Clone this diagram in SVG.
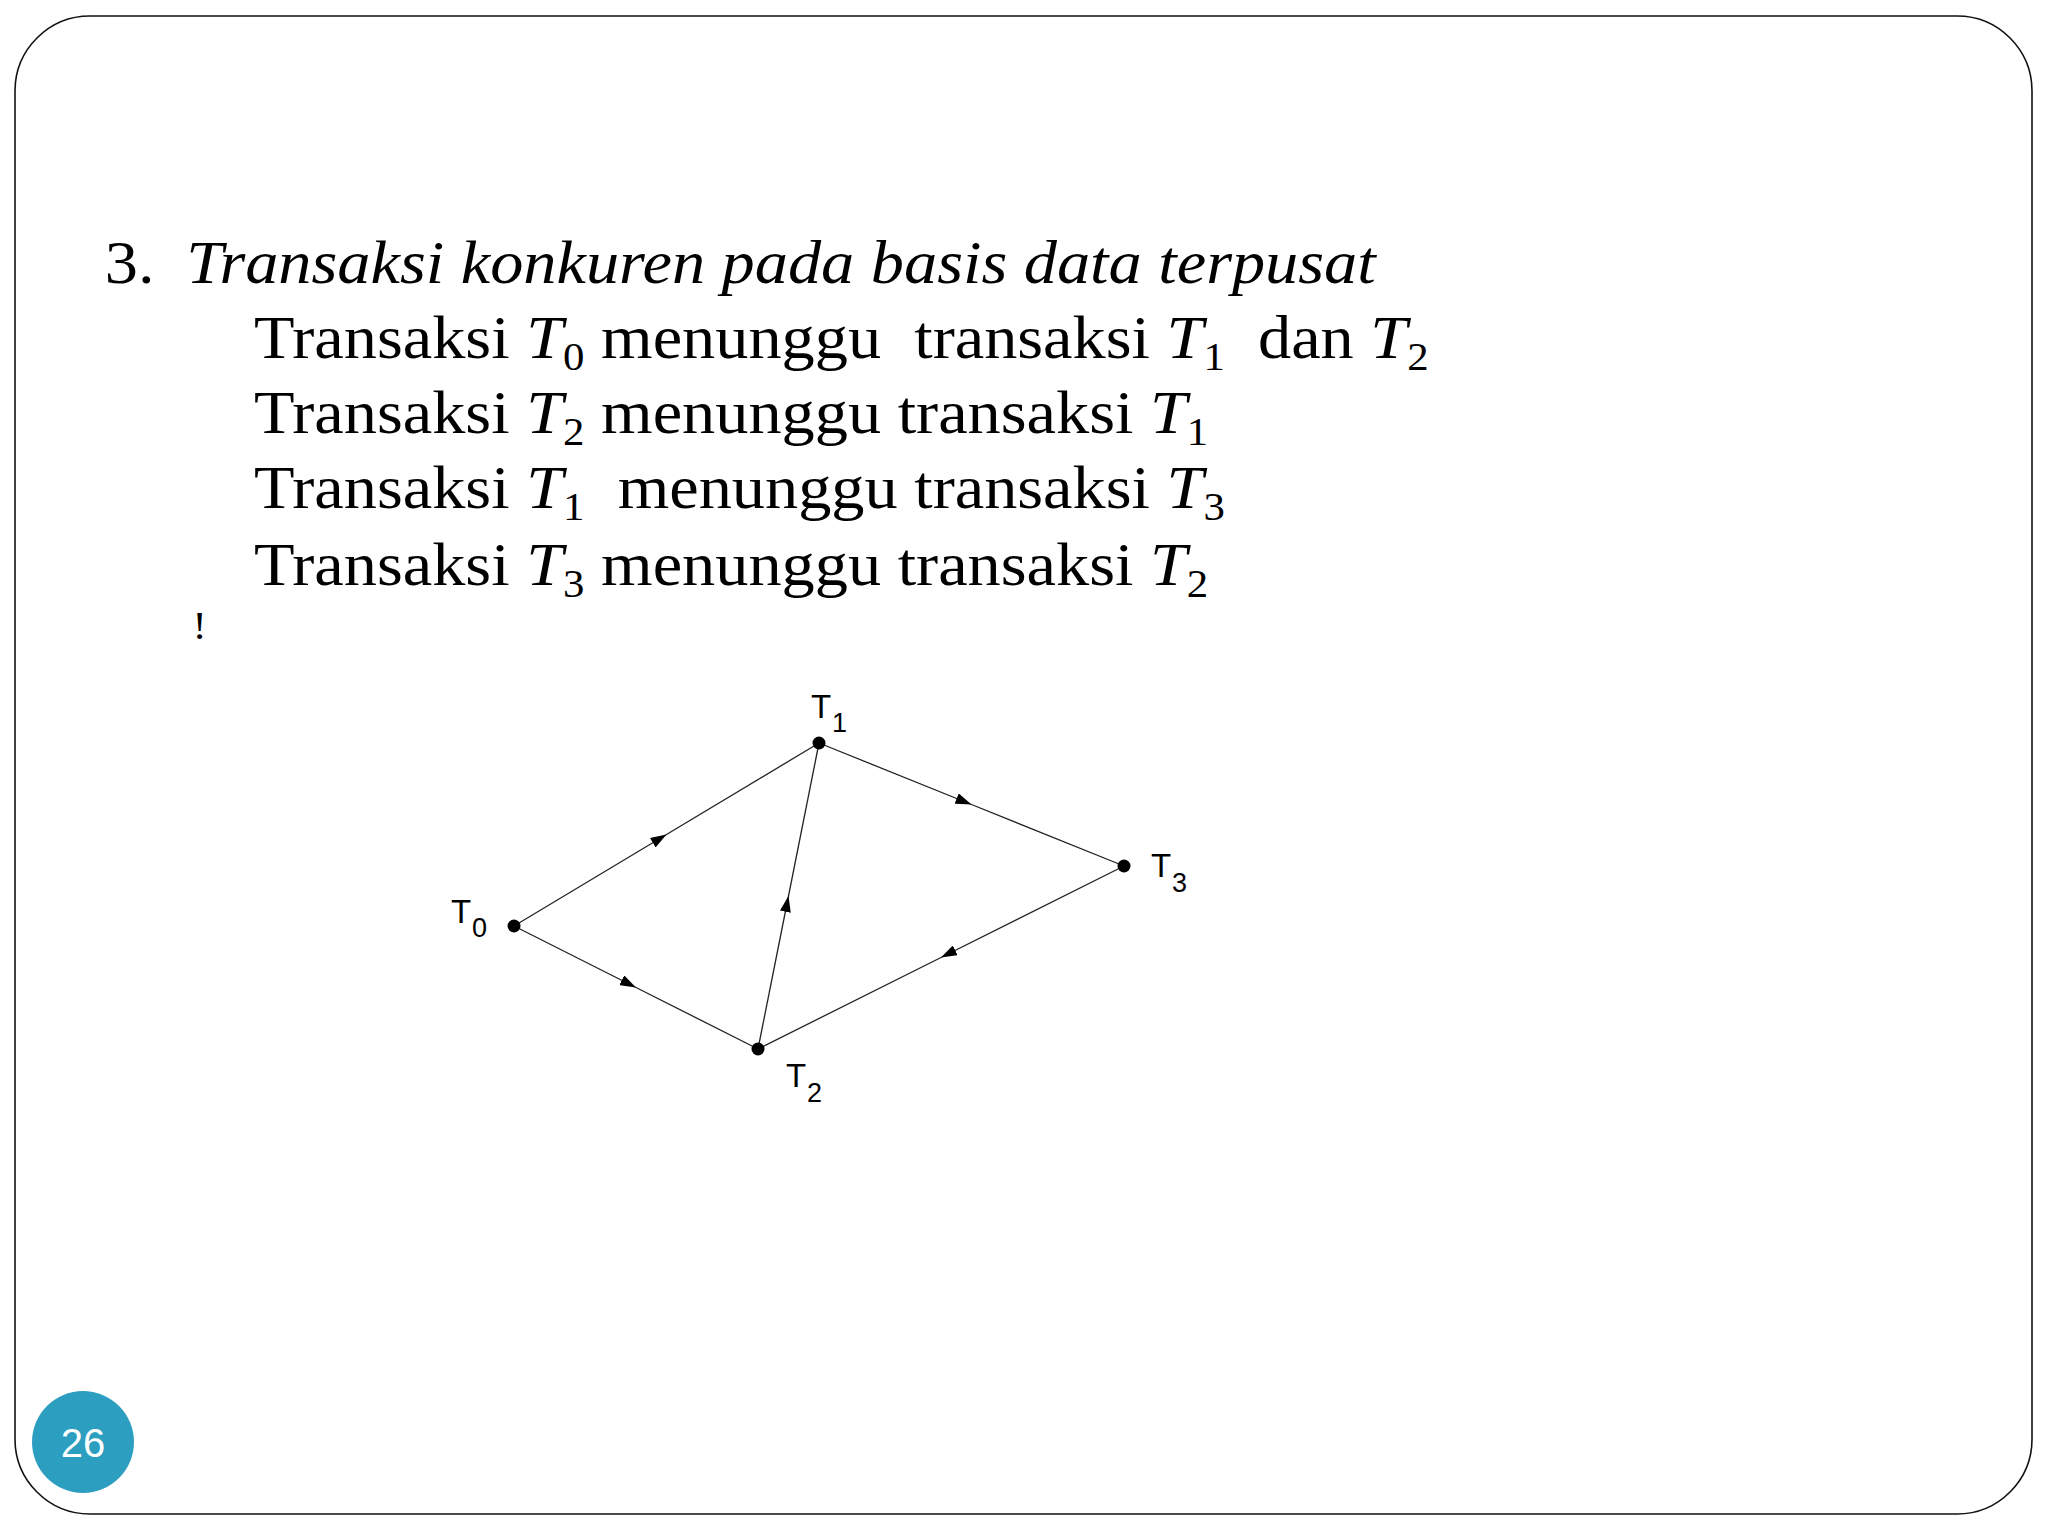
<svg xmlns="http://www.w3.org/2000/svg" width="2048" height="1536" viewBox="0 0 2048 1536">
<defs>
<style>
.frame{fill:#fff;stroke:#111;stroke-width:1.6}
.serif{font-family:"Liberation Serif","Times New Roman",serif;fill:#000;white-space:pre}
.body{font-size:62px}
.it{font-style:italic}
.sub{font-size:40px;font-style:normal}
.edge{fill:none;stroke:#222;stroke-width:1.3;marker-mid:url(#arr)}
.dot{fill:#000}
.lbl{font-family:"Liberation Sans",Arial,sans-serif;font-size:33px;fill:#000}
.lsub{font-size:27px}
</style>
<marker id="arr" viewBox="0 0 16 11" refX="16" refY="5.5" markerWidth="16" markerHeight="11" markerUnits="userSpaceOnUse" orient="auto">
<path d="M0,0 L16,5.5 L0,11 Z" fill="#000"/>
</marker>
</defs>
<rect width="2048" height="1536" fill="#fff"/>
<rect class="frame" x="15" y="16" width="2017" height="1498" rx="75" ry="75"/>

<g id="text" transform="scale(1.07,1)">
<text class="serif body" x="98" y="283">3.  <tspan class="it" x="174">Transaksi konkuren pada basis data terpusat</tspan></text>
<text class="serif body" x="237.5" y="358">Transaksi <tspan class="it">T</tspan><tspan class="sub" dy="12">0</tspan><tspan dy="-12"> menunggu  transaksi </tspan><tspan class="it">T</tspan><tspan class="sub" dy="12">1</tspan><tspan dy="-12">  dan </tspan><tspan class="it">T</tspan><tspan class="sub" dy="12">2</tspan></text>
<text class="serif body" x="237.5" y="433">Transaksi <tspan class="it">T</tspan><tspan class="sub" dy="12">2</tspan><tspan dy="-12"> menunggu transaksi </tspan><tspan class="it">T</tspan><tspan class="sub" dy="12">1</tspan></text>
<text class="serif body" x="237.5" y="508">Transaksi <tspan class="it">T</tspan><tspan class="sub" dy="12">1</tspan><tspan dy="-12">  menunggu transaksi </tspan><tspan class="it">T</tspan><tspan class="sub" dy="12">3</tspan></text>
<text class="serif body" x="237.5" y="585">Transaksi <tspan class="it">T</tspan><tspan class="sub" dy="12">3</tspan><tspan dy="-12"> menunggu transaksi </tspan><tspan class="it">T</tspan><tspan class="sub" dy="12">2</tspan></text>
<text class="serif" x="180" y="639" font-size="40">!</text>
</g>

<g id="connectors">
<path class="edge" d="M514,926 L666.5,834.5 L819,743"/>
<path class="edge" d="M514,926 L636,987.5 L758,1049"/>
<path class="edge" d="M758,1049 L788.5,896 L819,743"/>
<path class="edge" d="M819,743 L971.5,804.5 L1124,866"/>
<path class="edge" d="M1124,866 L941,957.5 L758,1049"/>
</g>

<g id="node-T0">
<circle class="dot" cx="514" cy="926" r="6.5"/>
<text class="lbl" x="451" y="923">T</text><text class="lbl lsub" x="472" y="937">0</text>
</g>
<g id="node-T1">
<circle class="dot" cx="819" cy="743" r="6.5"/>
<text class="lbl" x="811" y="718">T</text><text class="lbl lsub" x="832" y="732">1</text>
</g>
<g id="node-T2">
<circle class="dot" cx="758" cy="1049" r="6.5"/>
<text class="lbl" x="786" y="1087">T</text><text class="lbl lsub" x="807" y="1102">2</text>
</g>
<g id="node-T3">
<circle class="dot" cx="1124" cy="866" r="6.5"/>
<text class="lbl" x="1151" y="877">T</text><text class="lbl lsub" x="1172" y="892">3</text>
</g>

<g id="page-number">
<circle cx="83" cy="1442" r="51" fill="#2c9ec0"/>
<text x="83" y="1457" text-anchor="middle" font-family="Liberation Sans,Arial,sans-serif" font-size="40" fill="#fff">26</text>
</g>
</svg>
